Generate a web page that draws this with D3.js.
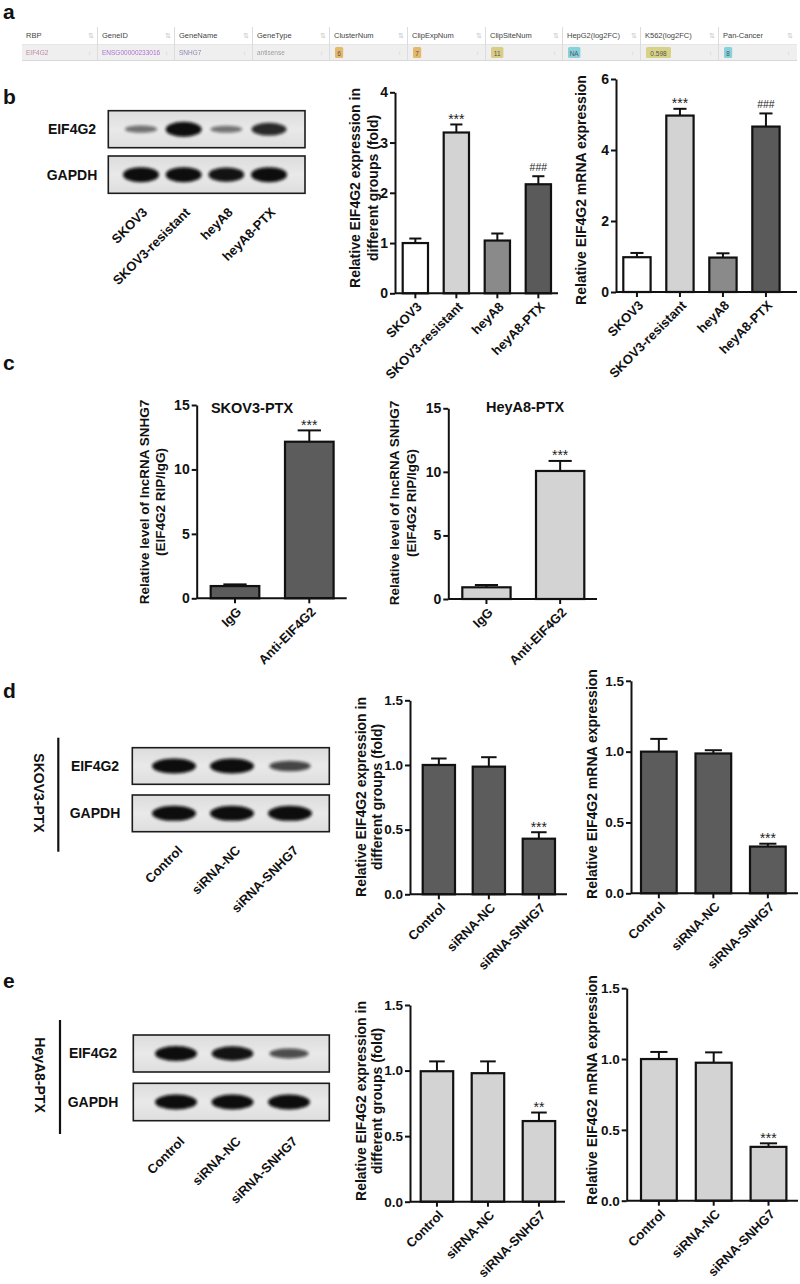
<!DOCTYPE html>
<html><head><meta charset="utf-8">
<script src="https://cdn.jsdelivr.net/npm/d3@7"></script>
<style>body{margin:0;background:#fff} svg{display:block} text{font-family:"Liberation Sans",Arial,sans-serif}</style>
</head><body><svg id="fig" width="800" height="1284"></svg>
<script>
// ---------------- DATA ----------------
const tableHeaders = ["RBP","GeneID","GeneName","GeneType","ClusterNum","ClipExpNum","ClipSiteNum","HepG2(log2FC)","K562(log2FC)","Pan-Cancer"];
const tableRow = ["EIF4G2","ENSG00000233016","SNHG7","antisense","6","7","11","NA","0.598","8"];

const bCats = ["SKOV3","SKOV3-resistant","heyA8","heyA8-PTX"];
const bProtein = [1.0, 3.2, 1.05, 2.17];
const bProteinErr = [0.09, 0.16, 0.14, 0.16];
const bProteinSig = ["","***","","###"];
const bMrna = [0.98, 4.97, 0.97, 4.66];
const bMrnaErr = [0.12, 0.19, 0.12, 0.37];
const bMrnaSig = ["","***","","###"];
const bBlotEIF4G2 = [0.3, 1.0, 0.28, 0.8];
const bBlotGAPDH = [1.0, 1.0, 0.95, 1.0];

const cCats = ["IgG","Anti-EIF4G2"];
const cSkov = [0.95, 12.15];
const cSkovErr = [0.13, 0.88];
const cHey = [0.92, 10.07];
const cHeyErr = [0.18, 0.79];
const cSig = ["","***"];

const deCats = ["Control","siRNA-NC","siRNA-SNHG7"];
const dProtein = [1.0, 0.987, 0.43];
const dProteinErr = [0.05, 0.073, 0.05];
const dProteinSig = ["","","***"];
const dMrna = [1.0, 0.987, 0.33];
const dMrnaErr = [0.09, 0.023, 0.02];
const dMrnaSig = ["","","***"];
const dBlotEIF4G2 = [1.0, 1.0, 0.6];
const dBlotGAPDH = [1.0, 1.0, 1.0];

const eProtein = [0.995, 0.98, 0.615];
const eProteinErr = [0.075, 0.09, 0.065];
const eProteinSig = ["","","**"];
const eMrna = [1.0, 0.974, 0.38];
const eMrnaErr = [0.05, 0.073, 0.025];
const eMrnaSig = ["","","***"];
const eBlotEIF4G2 = [1.0, 0.95, 0.55];
const eBlotGAPDH = [1.0, 1.0, 1.0];

// ---------------- DRAW ----------------
const svg = d3.select("#fig");
svg.append("rect").attr("width",800).attr("height",1284).attr("fill","#fff");
const defs = svg.append("defs");
defs.append("filter").attr("id","blur").attr("x","-30%").attr("y","-60%").attr("width","160%").attr("height","220%")
  .append("feGaussianBlur").attr("stdDeviation",1.5);
const grad = defs.append("linearGradient").attr("id","blotbg").attr("x1",0).attr("x2",0).attr("y1",0).attr("y2",1);
grad.append("stop").attr("offset","0%").attr("stop-color","#dcdcdc");
grad.append("stop").attr("offset","50%").attr("stop-color","#e9e9e9");
grad.append("stop").attr("offset","100%").attr("stop-color","#dedede");

const FONT = '"Liberation Sans",Arial,sans-serif';

function letter(t, x, y){
  svg.append("text").attr("x",x).attr("y",y).text(t).attr("font-size",21).attr("font-weight","bold").attr("fill","#111");
}
letter("a",3,19); letter("b",3,104); letter("c",3,370); letter("d",3,698); letter("e",3,988);

// ---- panel a table ----
(function(){
  const g = svg.append("g");
  const colX = [22, 98, 175, 253, 330, 408, 486, 563, 641, 719, 797];
  g.append("rect").attr("x",22).attr("y",26).attr("width",775).attr("height",18).attr("fill","#fff");
  g.append("rect").attr("x",22).attr("y",45).attr("width",775).attr("height",15).attr("fill","#efefef");
  g.append("line").attr("x1",22).attr("x2",797).attr("y1",60.5).attr("y2",60.5).attr("stroke","#d8d8d8");
  g.append("line").attr("x1",22).attr("x2",797).attr("y1",44.5).attr("y2",44.5).attr("stroke","#e6e6e6");
  tableHeaders.forEach((h,i)=>{
    g.append("text").attr("x",colX[i]+4).attr("y",38).text(h).attr("font-size",7.5).attr("fill","#444");
    const ix = colX[i+1]-10;
    g.append("text").attr("x",ix).attr("y",38).text("\u21C5").attr("font-size",7).attr("fill","#c4c4c4").attr("font-family","DejaVu Sans");
    g.append("text").attr("x",ix).attr("y",55).text("\u2195").attr("font-size",6).attr("fill","#d0d0d0").attr("font-family","DejaVu Sans");
    if(i>0) g.append("line").attr("x1",colX[i]-0.5).attr("x2",colX[i]-0.5).attr("y1",27).attr("y2",60).attr("stroke","#dcdcdc");
  });
  const textColors = ["#b06a8a","#9a52c8","#7a6aa0","#888"];
  tableRow.slice(0,4).forEach((v,i)=>{
    g.append("text").attr("x",colX[i]+4).attr("y",55).text(v).attr("font-size",6.5)
      .attr("fill",textColors[i]).attr("opacity",0.8);
  });
  const badgeColors = ["#e6b86a","#e6b86a","#d9cc85","#86d2dc","#d8d286","#86d2dc"];
  tableRow.slice(4).forEach((v,j)=>{
    const i=j+4;
    const w = Math.max(8, v.length*4.2+4);
    g.append("rect").attr("x",colX[i]+5).attr("y",47).attr("width",w).attr("height",11).attr("rx",1.5).attr("fill",badgeColors[j]);
    g.append("text").attr("x",colX[i]+5+w/2).attr("y",55.5).attr("text-anchor","middle").text(v).attr("font-size",6.5).attr("fill","#555");
  });
})();

// ---- blots ----
function blot(L, rows, labels){
  const g = svg.append("g");
  const xl = d3.scalePoint().domain(labels).range([L.lane0, L.lane1]);
  rows.forEach((r,ri)=>{
    const y0 = L.rowY[ri][0], y1 = L.rowY[ri][1];
    g.append("rect").attr("x",L.x0).attr("y",y0).attr("width",L.x1-L.x0).attr("height",y1-y0)
      .attr("fill","url(#blotbg)").attr("stroke","#1c1c1c").attr("stroke-width",1.6);
    const cy = (y0+y1)/2;
    g.selectAll(null).data(labels).join("ellipse")
      .attr("cx",d=>xl(d)).attr("cy",cy)
      .attr("rx",(d,i)=>L.rx*(0.85+0.15*r.vals[i]))
      .attr("ry",(d,i)=>2+5.5*r.vals[i])
      .attr("fill","#0a0a0a").attr("opacity",(d,i)=>0.35+0.65*r.vals[i])
      .attr("filter","url(#blur)");
    g.append("text").attr("x",L.labelX).attr("y",cy).attr("dy","0.35em").attr("text-anchor","middle")
      .text(r.name).attr("font-size",14).attr("font-weight","bold").attr("fill","#111");
  });
  g.selectAll(null).data(labels).join("text")
    .attr("transform",d=>`translate(${xl(d)+L.labDx},${L.labY}) rotate(-45)`)
    .attr("text-anchor","end").attr("dy","0.35em").text(d=>d)
    .attr("font-size",13).attr("font-weight","bold").attr("fill","#111");
  if(L.side){
    g.append("line").attr("x1",L.side.x).attr("x2",L.side.x).attr("y1",L.side.y0).attr("y2",L.side.y1)
      .attr("stroke","#111").attr("stroke-width",2.2);
    g.append("text").attr("transform",`translate(${L.side.tx},${(L.side.ty)}) rotate(90)`)
      .attr("text-anchor","middle").attr("dy","0.35em").text(L.side.text)
      .attr("font-size",14).attr("font-weight","bold").attr("fill","#111");
  }
}

blot({x0:108.3,x1:305,rowY:[[110.7,147.7],[156,193.3]],lane0:141,lane1:269,rx:18,labelX:72,labDx:4,labY:210},
  [{name:"EIF4G2",vals:bBlotEIF4G2},{name:"GAPDH",vals:bBlotGAPDH}], bCats);
blot({x0:132.3,x1:329.3,rowY:[[747.7,784.3],[795,831.7]],lane0:174,lane1:290,rx:22,labelX:95,labDx:6,labY:848,
  side:{x:58.3,y0:737.7,y1:851.7,tx:39,ty:793,text:"SKOV3-PTX"}},
  [{name:"EIF4G2",vals:dBlotEIF4G2},{name:"GAPDH",vals:dBlotGAPDH}], deCats);
blot({x0:133.3,x1:329.3,rowY:[[1035,1072],[1083.3,1120.7]],lane0:176,lane1:289,rx:21,labelX:93,labDx:6,labY:1139,
  side:{x:60,y0:1020,y1:1134,tx:40,ty:1075,text:"HeyA8-PTX"}},
  [{name:"EIF4G2",vals:eBlotEIF4G2},{name:"GAPDH",vals:eBlotGAPDH}], deCats);

// ---- bar charts ----
function barChart(L, cats, vals, errs, sig, colors, ylab){
  const g = svg.append("g");
  const y = d3.scaleLinear().domain([0, L.max]).range([L.y0, L.yTop]);
  const n = cats.length;
  const x = d3.scaleBand().domain(cats)
    .range([L.firstLeft, L.firstLeft + L.step*n - (L.step - L.barW)])
    .paddingInner(1 - L.barW/L.step).paddingOuter(0);
  const bw = x.bandwidth();
  const cap = bw*0.48;
  const eg = g.append("g").attr("stroke","#111").attr("stroke-width",2);
  cats.forEach((c,i)=>{
    const cx = x(c)+bw/2, yt = y(vals[i]+errs[i]);
    eg.append("line").attr("x1",cx).attr("x2",cx).attr("y1",y(vals[i])).attr("y2",yt);
    eg.append("line").attr("x1",cx-cap/2).attr("x2",cx+cap/2).attr("y1",yt).attr("y2",yt);
    if(sig[i]){
      const isHash = sig[i][0]==="#";
      g.append("text").attr("x",cx).attr("y",isHash? yt-5 : yt-0.5).attr("text-anchor","middle")
        .text(sig[i]).attr("font-size",isHash?10.5:14).attr("fill","#222");
    }
  });
  g.selectAll("rect.bar").data(cats).join("rect").attr("class","bar")
    .attr("x",d=>x(d)).attr("width",bw)
    .attr("y",(d,i)=>y(vals[i])).attr("height",(d,i)=>L.y0 - y(vals[i]))
    .attr("fill",(d,i)=>colors[i % colors.length]).attr("stroke","#111").attr("stroke-width",2.2);
  const ya = g.append("g").attr("transform",`translate(${L.ax},0)`)
    .call(d3.axisLeft(y).tickValues(L.ticks).tickFormat(d3.format(L.fmt)).tickSize(5).tickSizeOuter(0).tickPadding(2));
  ya.select(".domain").attr("stroke","#111").attr("stroke-width",2);
  ya.selectAll(".tick line").attr("stroke","#111").attr("stroke-width",2);
  ya.selectAll(".tick text").attr("font-size",L.fs).attr("font-weight","bold").attr("fill","#111").attr("font-family",FONT);
  const xa = g.append("g").attr("transform",`translate(0,${L.y0})`)
    .call(d3.axisBottom(x).tickSize(5).tickSizeOuter(0));
  xa.select(".domain").remove();
  xa.append("line").attr("x1",L.ax).attr("x2",L.xEnd).attr("y1",0).attr("y2",0).attr("stroke","#111").attr("stroke-width",2);
  xa.selectAll(".tick line").attr("stroke","#111").attr("stroke-width",2);
  xa.selectAll(".tick text").attr("y",0).attr("dy","0.35em")
    .attr("transform","translate(4,11) rotate(-45)").attr("text-anchor","end")
    .attr("font-size",13).attr("font-weight","bold").attr("fill","#111").attr("font-family",FONT);
  ylab.lines.forEach((t,k)=>{
    g.append("text").attr("transform",`translate(${ylab.x[k]},${ylab.cy}) rotate(-90)`)
      .attr("text-anchor","middle").attr("dy","0.35em").text(t)
      .attr("font-size",ylab.fs||14).attr("font-weight","bold").attr("fill","#111");
  });
  if(L.title){
    g.append("text").attr("x",L.title.x).attr("y",L.title.y).attr("text-anchor","middle")
      .text(L.title.text).attr("font-size",14.5).attr("font-weight","bold").attr("fill","#111");
  }
}

const grayB = ["#ffffff","#d3d3d3","#8a8a8a","#5a5a5a"];
const dark = ["#5c5c5c"], light = ["#d3d3d3"];

barChart({ax:395,xEnd:558,y0:293.3,yTop:92.3,max:4,ticks:[0,1,2,3,4],fmt:"d",firstLeft:402.7,step:41,barW:25.3,fs:14},
  bCats,bProtein,bProteinErr,bProteinSig,grayB,{lines:["Relative EIF4G2 expression in","different groups (fold)"],x:[355,373],cy:188});
barChart({ax:616,xEnd:797,y0:292,yTop:79,max:6,ticks:[0,2,4,6],fmt:"d",firstLeft:623.3,step:43,barW:27.3,fs:14},
  bCats,bMrna,bMrnaErr,bMrnaSig,grayB,{lines:["Relative EIF4G2 mRNA expression"],x:[581],cy:190});

barChart({ax:196.7,xEnd:346.7,y0:598.3,yTop:405,max:15,ticks:[0,5,10,15],fmt:"d",firstLeft:210.7,step:74.3,barW:48.6,fs:14,
  title:{x:252,y:413,text:"SKOV3-PTX"}},
  cCats,cSkov,cSkovErr,cSig,dark,{lines:["Relative level of lncRNA SNHG7","(EIF4G2 RIP/IgG)"],x:[144,160],cy:502,fs:13.5});
barChart({ax:448.3,xEnd:597,y0:599,yTop:408.3,max:15,ticks:[0,5,10,15],fmt:"d",firstLeft:462.3,step:73.7,barW:48.3,fs:14,
  title:{x:525,y:412,text:"HeyA8-PTX"}},
  cCats,cHey,cHeyErr,cSig,light,{lines:["Relative level of lncRNA SNHG7","(EIF4G2 RIP/IgG)"],x:[394,411],cy:503,fs:13.5});

barChart({ax:410,xEnd:567,y0:894.3,yTop:700.3,max:1.5,ticks:[0,0.5,1,1.5],fmt:".1f",firstLeft:422.7,step:50,barW:32.3,fs:13.5},
  deCats,dProtein,dProteinErr,dProteinSig,dark,{lines:["Relative EIF4G2 expression in","different groups (fold)"],x:[361,377.5],cy:797});
barChart({ax:631,xEnd:798,y0:893.3,yTop:680.8,max:1.5,ticks:[0,0.5,1,1.5],fmt:".1f",firstLeft:641,step:54.5,barW:35.7,fs:13.5},
  deCats,dMrna,dMrnaErr,dMrnaSig,dark,{lines:["Relative EIF4G2 mRNA expression"],x:[592.5],cy:784});

barChart({ax:410,xEnd:565,y0:1201.7,yTop:1005,max:1.5,ticks:[0,0.5,1,1.5],fmt:".1f",firstLeft:420.7,step:51,barW:32.5,fs:13.5},
  deCats,eProtein,eProteinErr,eProteinSig,light,{lines:["Relative EIF4G2 expression in","different groups (fold)"],x:[361,377.5],cy:1101});
barChart({ax:626.7,xEnd:798,y0:1200.7,yTop:988.2,max:1.5,ticks:[0,0.5,1,1.5],fmt:".1f",firstLeft:641,step:54.8,barW:35.8,fs:13.5},
  deCats,eMrna,eMrnaErr,eMrnaSig,light,{lines:["Relative EIF4G2 mRNA expression"],x:[592.5],cy:1090});
</script></body></html>
